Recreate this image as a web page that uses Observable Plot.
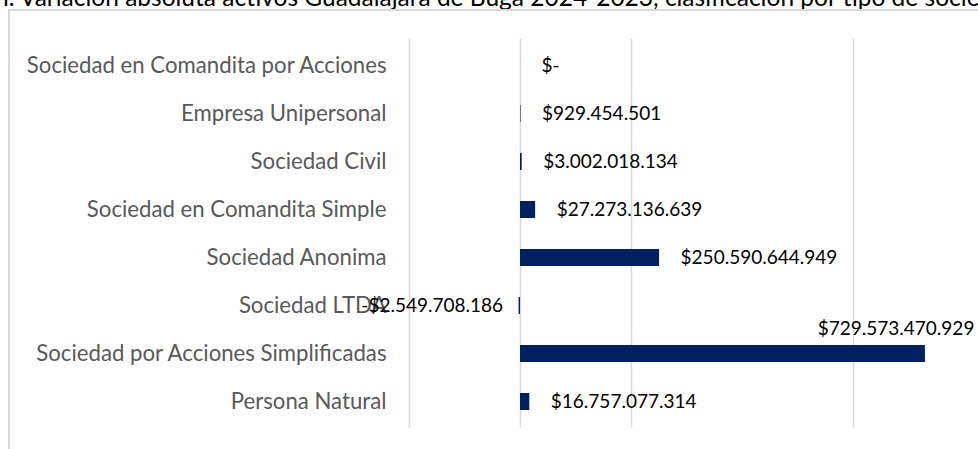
<!DOCTYPE html>
<html>
<head>
<meta charset="utf-8">
<script src="https://cdn.jsdelivr.net/npm/d3@7"></script>
<script src="https://cdn.jsdelivr.net/npm/@observablehq/plot@0.6"></script>
<style>
  html, body { margin: 0; padding: 0; width: 978px; height: 449px; overflow: hidden; background: #fff; position: relative; }
  #title { position: absolute; left: -5px; top: -17px; white-space: nowrap; font-family: Lato, sans-serif; font-size: 24.5px; line-height: 28px; color: #000; }
  #frame { position: absolute; left: 8px; top: 9px; width: 1200px; height: 800px; border-top: 2px solid #d9d9d9; border-left: 2px solid #d9d9d9; }
  #chart { position: absolute; left: 0; top: 0; }
</style>
</head>
<body>
<div id="title">n. Variación absoluta activos Guadalajara de Buga 2024-2023, clasificación por tipo de sociedad</div>
<div id="frame"></div>
<div id="chart"></div>
<script>
const categories = [
  "Sociedad en Comandita por Acciones",
  "Empresa Unipersonal",
  "Sociedad Civil",
  "Sociedad en Comandita Simple",
  "Sociedad Anonima",
  "Sociedad LTDA",
  "Sociedad por Acciones Simplificadas",
  "Persona Natural"
];
const values = [0, 929454501, 3002018134, 27273136639, 250590644949, -2549708186, 729573470929, 16757077314];
const gridTicks = [-200e9, 0, 200e9, 600e9];
const xDomain = [-200e9, 800e9];

const fmtNum = d3.formatLocale({decimal: ",", thousands: ".", grouping: [3], currency: ["$", ""]}).format(",d");
const fmtLabel = v => v === 0 ? "$-" : (v < 0 ? "-$" : "$") + fmtNum(Math.abs(v));

const data = categories.map((c, i) => ({category: c, value: values[i], label: fmtLabel(values[i])}));
const maxV = d3.max(values);
const normal = data.filter(d => d.value >= 0 && d.value !== maxV);
const outside = data.filter(d => d.value === maxV);
const negative = data.filter(d => d.value < 0);

const FS = 19;
const AFS = 22.2;
const chart = Plot.plot({
  width: 978,
  height: 449,
  marginTop: 38.7,
  marginBottom: 21.5,
  marginLeft: 409,
  marginRight: 14,
  style: {fontFamily: "Lato, sans-serif", fontSize: FS + "px", background: "transparent", overflow: "visible"},
  x: {domain: xDomain, axis: null},
  y: {domain: categories, axis: null, paddingInner: 0.65, paddingOuter: 0.325},
  marks: [
    Plot.gridX(gridTicks, {stroke: "#d9d9d9", strokeOpacity: 1, strokeWidth: 1.5}),
    Plot.barX(data, {x: "value", y: "category", fill: "#002060"}),
    Plot.axisY({tickSize: 0, tickPadding: 23, fontSize: AFS, color: "#595959", label: null}),
    Plot.text(normal, {x: "value", y: "category", text: "label", textAnchor: "start", dx: 21, fontSize: FS, fill: "#000"}),
    Plot.text(outside, {x: "value", y: "category", text: "label", textAnchor: "end", dx: 49, dy: -25, fontSize: FS, fill: "#000"}),
    Plot.text(negative, {x: "value", y: "category", text: "label", textAnchor: "end", dx: -16, fontSize: FS, fill: "#000"})
  ]
});
document.getElementById("chart").appendChild(chart);
</script>
</body>
</html>
